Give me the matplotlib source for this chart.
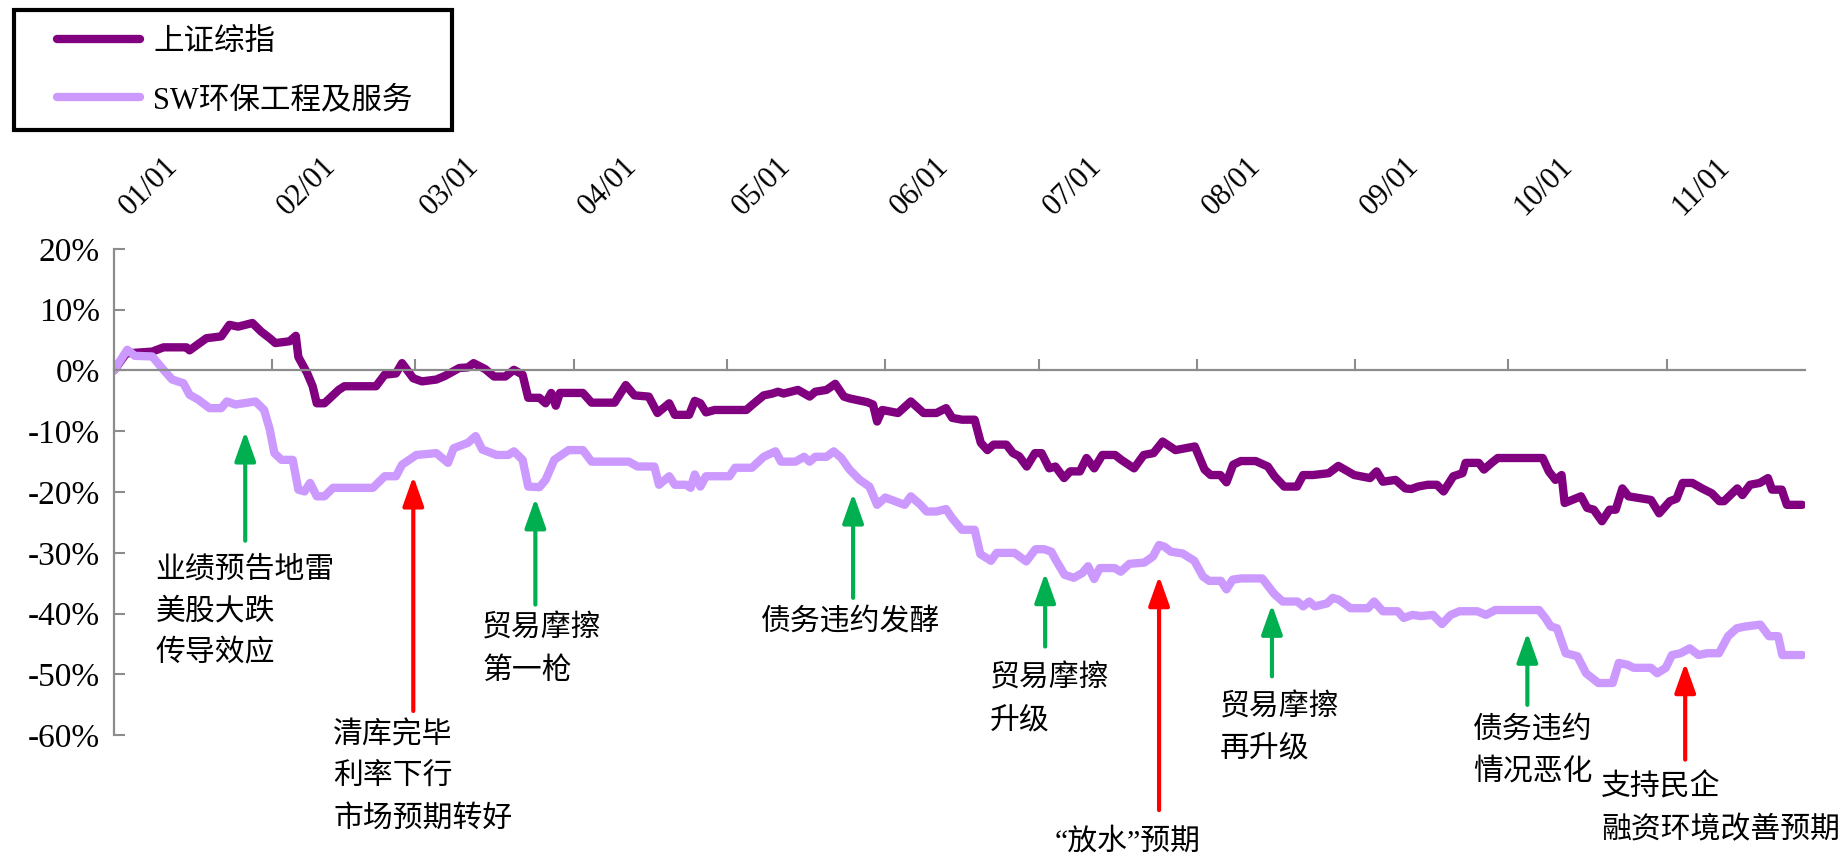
import matplotlib
matplotlib.use("Agg")
import matplotlib.pyplot as plt
from matplotlib.patches import Rectangle
from matplotlib.ticker import PercentFormatter

plt.rcParams['font.family'] = ['Liberation Serif', 'Noto Sans CJK SC']
plt.rcParams['axes.unicode_minus'] = False

# x = days since 2018-01-01 (calendar), y = cumulative change in %
sh_days = [0, 2.4, 7.5, 9.7, 14.2, 14.8, 18.1, 21, 22.6, 24.3, 27.1, 28.8, 30.5, 31.6, 34.4, 35.6,
           36.1, 37.8, 38.9, 39.7, 41.2, 44, 45.1, 51.3, 53, 55.2, 56.4, 58.6, 60.3, 63.1, 64.8,
           67.6, 69.3, 70.4, 72.7, 74.4, 76.6, 78.3, 80, 81.1, 83.3, 84.5, 85.6, 86.5, 87.3, 91.8,
           93.5, 98, 100.2, 101.9, 104.7, 106.4, 108.7, 109.8, 112.6, 113.7, 114.8, 115.9, 117.6,
           123.8, 124.9, 127.2, 128.9, 130, 131.1, 133.9, 136.2, 137.3, 139.5, 141.2, 142.9, 144,
           147.4, 148.6, 149.4, 150.4, 153.5, 156, 158.5, 161, 162.9, 164.1, 166, 168.5, 169.7,
           171, 172.2, 174.7, 176, 177.2, 178.7, 180.3, 181.6, 183.1, 184.3, 186, 187.2, 189.1,
           190.4, 191.9, 193.5, 196, 197.2, 199.7, 201.6, 203.5, 205.3, 207.8, 211.6, 213.5, 214.7,
           216.6, 217.8, 219.1, 220.6, 223.5, 225.9, 227.2, 229.1, 231.6, 232.8, 234.7, 237.8,
           239.7, 242.8, 245.9, 247.2, 248.4, 250.9, 252.8, 254, 255.3, 257.2, 259, 260.3, 262.2,
           264, 264.6, 267.2, 268.2, 269.7, 270.9, 279.7, 280.9, 282.2, 283.4, 284, 287.2, 288.4,
           289.7, 291.3, 292.8, 294, 295.3, 296.5, 300.9, 302.5, 304.6, 305.9, 307.1, 309, 310.9,
           312.8, 314.3, 315.2, 317.8, 318.8, 320.3, 322.2, 323.8, 324.6, 326.5, 327.5, 330.5]
sh_vals = [0, 2.8, 3.1, 3.8, 3.8, 3.3, 5.3, 5.6, 7.5, 7.2, 7.8, 6.4, 5.3, 4.5, 4.8, 5.7,
           2.2, -0.4, -2.6, -5.4, -5.4, -3.2, -2.6, -2.6, -0.7, -0.5, 1.2, -1.3, -1.8, -1.5, -0.9,
           0.4, 0.5, 1.2, 0.2, -1.0, -1.0, 0.1, -0.7, -4.5, -4.5, -5.4, -3.7, -5.8, -3.7, -3.7,
           -5.3, -5.3, -2.4, -4.1, -4.3, -7.0, -5.4, -7.3, -7.3, -5.0, -5.4, -6.9, -6.5,
           -6.5, -5.7, -4.1, -3.8, -3.5, -3.8, -3.2, -4.3, -3.5, -3.2, -2.2, -4.3, -4.6,
           -5.2, -5.6, -8.4, -6.5, -7.0, -5.1, -7.0, -7.0, -6.2, -7.8, -8.1, -8.1, -11.9,
           -13.1, -12.2, -12.2, -13.6, -14.1, -15.8, -13.6, -13.6, -16.1, -15.8, -17.7, -16.6, -16.6,
           -14.4, -16.1, -13.9, -13.9, -14.7, -16.1, -13.9, -13.6, -11.7, -13.1, -12.5, -16.3, -17.2,
           -17.2, -18.4, -15.5, -14.9, -14.9, -15.8, -17.4, -19.1, -19.1, -17.2, -17.2, -16.9,
           -15.7, -17.2, -17.7, -16.6, -18.3, -18.0, -19.4, -19.5, -19.1, -18.8, -18.8, -19.9, -17.4,
           -16.9, -15.2, -15.2, -16.3, -15.2, -14.4, -14.4, -16.6, -18.0, -17.2, -21.8, -20.7, -22.6,
           -22.9, -24.8, -22.9, -22.9, -19.4, -20.7, -21.3, -23.5, -21.5, -21.1, -18.5, -18.5, -19.4,
           -20.2, -21.5, -21.5, -19.4, -20.5, -18.8, -18.5, -17.7, -19.6, -19.6, -22.1, -22.1]

env_days = [0, 2.6, 4.1, 7.5, 9.7, 11.4, 13.6, 14.8, 16.5, 18.7, 21, 22.1, 23.8, 27.7, 29.4, 30.5,
            31.4, 32.8, 35, 36.1, 37.3, 38.4, 39.7, 41.2, 42.9, 50.7, 53, 55.2, 56.4, 59.2, 63.1,
            65.4, 66.5, 69.3, 70.8, 72.1, 74.9, 77.2, 78.3, 80, 81.1, 83.3, 84.5, 86.2, 89, 91.8,
            93.5, 100.8, 102.5, 105.8, 106.7, 108.7, 109.8, 112, 112.9, 113.7, 114.8, 115.9, 120.5,
            121.6, 124.9, 127.2, 129.5, 130.6, 133.4, 135.1, 136.2, 137.3, 139.5, 140.9, 142.4, 144,
            146, 147.9, 149.4, 151, 154.8, 156, 157.9, 159.1, 161, 162.9, 164.1, 166, 168.5, 169.6,
            171.7, 172.8, 176.3, 178.6, 180.4, 182.1, 183.5, 184.4, 186.1, 187.9, 189.6, 190.7, 191.9,
            193, 195.9, 197.1, 198.8, 201.7, 203.4, 204.6, 205.7, 206.9, 209.2, 211.5, 213.2, 214.4,
            216.7, 217.8, 219, 220.7, 224.8, 227.1, 228.8, 231.7, 232.8, 234, 235.1, 237.5, 238.6,
            239.8, 242.1, 245.5, 246.7, 248.4, 251.3, 252.5, 254.2, 255.9, 258.2, 260, 261.7, 263.4,
            266.9, 268.6, 270.4, 279, 280.2, 281.3, 282.5, 284.2, 286.5, 288.2, 290.6, 293.4, 294.6,
            296.3, 297.5, 300.9, 302.1, 303.8, 305, 306.7, 308.5, 310.2, 311.9, 314.2, 316, 317.7,
            319.4, 322.3, 324, 325.8, 326.6, 330.5]
env_vals = [0, 3.4, 2.4, 2.3, 0.1, -1.5, -2.1, -4.0, -4.8, -6.2, -6.2, -5.1, -5.6, -5.1, -6.5, -9.7,
            -13.6, -14.7, -14.7, -19.6, -19.9, -18.5, -20.7, -20.7, -19.3, -19.3, -17.4, -17.4, -15.5, -13.9, -13.6,
            -15.2, -12.8, -11.9, -10.8, -13.0, -13.9, -13.9, -13.3, -14.7, -19.1, -19.2, -18.0, -14.7, -13.1, -13.1,
            -15.0, -15.0, -15.8, -15.8, -18.8, -17.4, -18.8, -18.8, -19.3, -17.1, -19.1, -17.4, -17.4,
            -16.0, -16.0, -14.2, -13.3, -15.0, -15.0, -14.2, -15.0, -14.2, -14.2, -13.3, -14.4, -16.3,
            -18.0, -19.1, -22.1, -20.9, -22.1, -20.7, -22.1, -23.2, -23.2, -22.8, -24.3, -26.2, -26.2, -30.2,
            -31.3, -30.0, -30.0, -31.4, -29.4, -29.4, -29.8, -31.2, -33.6, -34.1, -33.3, -32.2, -34.3,
            -32.5, -32.5, -33.1, -31.8, -31.6, -30.6, -28.7, -29.0, -29.8, -30.1, -31.3, -33.9, -34.6,
            -34.6, -36.0, -34.4, -34.2, -34.2, -36.7, -38.0, -38.0, -38.8, -38.0, -38.8, -38.3, -37.4,
            -37.7, -39.1, -39.1, -38.0, -39.6, -39.6, -40.7, -40.2, -40.4, -40.2, -41.7, -40.2, -39.6,
            -39.6, -40.2, -39.4, -39.4, -40.7, -42.1, -42.4, -46.5, -47.0, -49.8, -51.4, -51.4, -48.1,
            -48.4, -48.9, -48.9, -49.8, -48.9, -46.8, -46.5, -45.7, -46.8, -46.5, -46.5, -43.7, -42.4,
            -42.1, -41.8, -43.7, -43.7, -46.8, -46.8]

month_days = [0, 31, 59, 90, 120, 151, 181, 212, 243, 273, 304]
month_labels = ['01/01', '02/01', '03/01', '04/01', '05/01', '06/01',
                '07/01', '08/01', '09/01', '10/01', '11/01']

# events: arrow x (day), arrow tail, arrow head, good news?, text, text x, text y
ev_x = [25.7, 58.6, 82.5, 144.7, 182.3, 204.6, 226.7, 276.7, 307.6]
ev_tail = [-28, -56, -38.5, -37.4, -45.4, -72.3, -50.3, -55, -64]
ev_head = [-10, -17.4, -21, -20.2, -33.3, -33.8, -38.5, -43.1, -48.1]
ev_good = [False, True, False, False, False, True, False, False, True]
ev_text = ['业绩预告地雷\n美股大跌\n传导效应', '清库完毕\n利率下行\n市场预期转好', '贸易摩擦\n第一枪',
           '债务违约发酵', '贸易摩擦\n升级', '“放水”预期', '贸易摩擦\n再升级', '债务违约\n情况恶化',
           '支持民企\n融资环境改善预期']
ev_tx = [8.1, 42.9, 72.1, 126.7, 171.5, 184.2, 216.5, 266.1, 291.1]
ev_ty = [-39.7, -66.9, -45.9, -41.3, -54.1, -77.5, -58.8, -62.5, -72.0]

fig = plt.figure(figsize=(18.44, 8.58), dpi=100)
ax = fig.add_axes([0.0618, 0.1430, 0.9169, 0.567])

l1, = ax.plot(sh_days, sh_vals, color='#800080', lw=6, solid_joinstyle='round',
              solid_capstyle='round', label='上证综指')
l2, = ax.plot(env_days, env_vals, color='#CC99FF', lw=6, solid_joinstyle='round',
              solid_capstyle='round', label='SW环保工程及服务')

ax.set_xlim(0, 331)
ax.set_ylim(-60, 20)
ax.set_yticks(range(-60, 21, 10))
ax.yaxis.set_major_formatter(PercentFormatter(decimals=0))

ax.spines['top'].set_visible(False)
ax.spines['right'].set_visible(False)
ax.spines['bottom'].set_position(('data', 0))
for s in ['left', 'bottom']:
    ax.spines[s].set_color('#8c8c8c')
    ax.spines[s].set_linewidth(1.6)

ax.set_xticks(month_days)
ax.set_xticklabels(month_labels)
ax.tick_params(axis='x', bottom=True, top=False, labelbottom=False, labeltop=True,
               direction='in', length=8, width=1.5, color='#8c8c8c', pad=20, labelsize=22)
for t in ax.xaxis.get_major_ticks():
    t.label2.set_rotation(45)
    t.label2.set_rotation_mode('default')
    t.label2.set_ha('left')
    t.label2.set_va('bottom')
ax.tick_params(axis='y', direction='in', length=8, width=1.5, color='#8c8c8c', pad=10,
               labelsize=24)

for x, y0, y1, good, txt, tx, ty in zip(ev_x, ev_tail, ev_head, ev_good, ev_text, ev_tx, ev_ty):
    c = '#FF0000' if good else '#00B050'
    ax.annotate('', xy=(x, y1), xytext=(x, y0), annotation_clip=False,
                arrowprops=dict(arrowstyle='-|>,head_length=0.9,head_width=0.32', color=c, lw=3,
                                mutation_scale=20, shrinkA=0, shrinkB=0))
    ax.text(tx, ty, txt, fontsize=21.5, ha='left', va='center', linespacing=1.65)

W, H = 1844, 858
fig.patches.append(Rectangle((14 / W, 1 - 130 / H), 438 / W, 120 / H, transform=fig.transFigure,
                             fill=False, edgecolor='black', lw=3))
leg = fig.legend(handles=[l1, l2], loc='upper left', bbox_to_anchor=(57 / W, 1 - 28 / H),
                 fontsize=22, frameon=False, borderpad=0, handlelength=2.7,
                 handletextpad=0.45, labelspacing=0.95, borderaxespad=0)

fig.savefig('out.png', dpi=100)
